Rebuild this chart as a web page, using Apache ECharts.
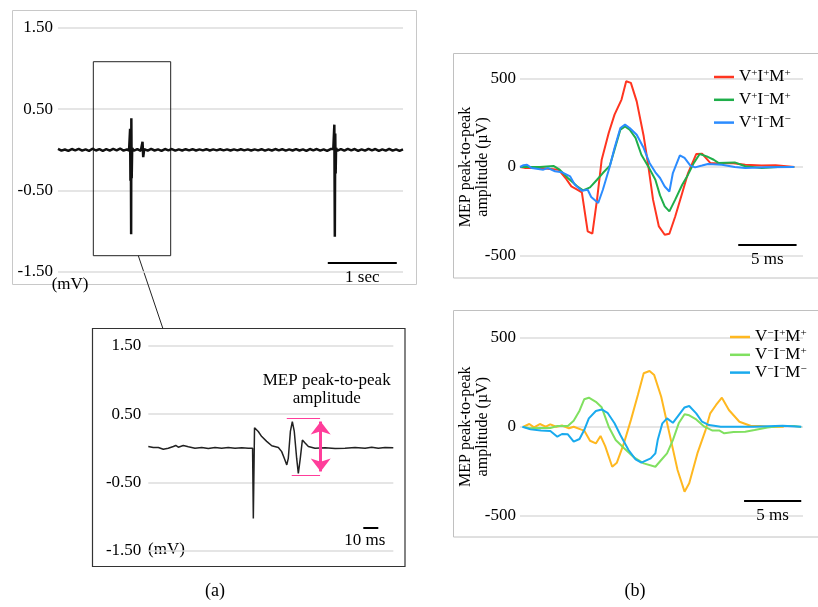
<!DOCTYPE html>
<html><head><meta charset="utf-8">
<script src="https://cdn.jsdelivr.net/npm/echarts@6/dist/echarts.min.js"></script>
<style>html,body{margin:0;padding:0;background:#fff}#c{width:818px;height:607px}</style>
</head><body><div id="c"></div>
<script>
// ---------- Panel (a) top: raw EMG over 5 s (mV) ----------
const t1 = [0,0.05,0.1,0.15,0.2,0.25,0.3,0.35,0.4,0.45,0.5,0.55,0.6,0.65,0.7,0.75,0.8,0.85,0.9,0.95,1.0,
  1.03,1.045,1.05,1.055,1.06,1.063,1.068,1.075,1.1,
  1.15,1.2,1.225,1.235,1.25,
  1.3,1.35,1.4,1.45,1.5,1.55,1.6,1.65,1.7,1.75,1.8,1.85,1.9,1.95,2.0,2.05,2.1,2.15,2.2,2.25,2.3,2.35,2.4,2.45,2.5,2.55,2.6,2.65,2.7,2.75,2.8,2.85,2.9,2.95,3.0,3.05,3.1,3.15,3.2,3.25,3.3,3.35,3.4,3.45,3.5,3.55,3.6,3.65,3.7,3.75,3.8,3.85,3.9,3.95,
  3.99,4.005,4.012,4.018,4.024,4.03,4.05,
  4.1,4.15,4.2,4.25,4.3,4.35,4.4,4.45,4.5,4.55,4.6,4.65,4.7,4.75,4.8,4.85,4.9,4.95,5.0];
const v1 = [0.012,-0.01,0.004,-0.012,0.01,-0.006,0.012,-0.01,0.006,-0.012,0.014,-0.008,0.01,-0.012,0.008,-0.01,0.012,-0.006,0.016,-0.01,0.006,
  -0.01,0.26,-0.38,0.26,-1.04,0.39,-0.35,0.02,-0.01,
  0.01,-0.012,0.1,-0.09,0.008,
  -0.01,0.012,-0.008,0.006,-0.012,0.01,-0.006,0.01,-0.01,0.006,
  -0.008,0.008,-0.006,0.008,-0.008,0.006,-0.006,0.008,-0.008,0.006,
  -0.006,0.008,-0.006,0.006,-0.008,0.006,-0.006,0.008,-0.006,0.006,
  -0.008,0.006,-0.006,0.008,-0.01,0.006,-0.008,0.01,-0.006,0.008,
  -0.01,0.006,-0.008,0.01,-0.008,0.006,-0.012,0.01,-0.006,0.01,
  -0.01,0.006,-0.012,0.01,
  0.01,0.31,-1.07,0.2,-0.29,0.02,-0.01,
  0.01,-0.01,0.012,-0.006,0.01,-0.012,0.006,-0.01,0.012,-0.006,0.01,-0.012,0.006,-0.01,0.012,-0.01,0.006,-0.012,0.006];

// ---------- Panel (a) bottom: zoomed single MEP (ms, mV) ----------
const t2 = [0,3.3,6.7,10,13.3,16.7,18.3,20,23.3,26.7,31.1,35.6,40,44.5,48.9,53.3,57.8,62.3,66.7,69.5,
  70,70.8,73.3,75.6,78.9,82.3,86.7,88.9,90.7,92.3,93.3,94.7,96,97.3,98.9,100,101.3,102.7,104.5,106.7,
  111.1,117.8,124.5,131.1,137.8,144.5,148.9,153.3,157.8,163.3];
const v2 = [0.025,0.01,0.01,-0.015,0,0.025,0.04,0.015,0.04,0.02,0,0.01,-0.005,0.01,0,0.01,0,0.005,0,0,
  -1.03,0.30,0.245,0.17,0.10,0.035,0.01,-0.05,-0.15,-0.245,-0.15,0.245,0.39,0.245,-0.15,-0.37,-0.15,0.12,0.075,0.025,
  0,0.005,-0.005,0,0.01,0,0.015,0,0.01,0.005];

// ---------- Panel (b) top: averaged MEPs (ms, µV) ----------
const t3r = [0,0.4,1.7,3.3,3.9,4.4,4.9,5.3,5.8,6.2,6.6,7.0,7.6,8.1,8.7,9.1,9.5,10.0,10.6,11.0,11.4,11.9,12.4,12.8,13.3,13.9,14.4,15.1,15.6,16.3,17.0,18.1,19.3,20.7,21.9,23.5];
const v3r = [0,-5,-5,-15,-62,-109,-127,-143,-363,-376,-184,41,192,295,380,483,474,370,173,3,-184,-335,-382,-376,-279,-147,-34,73,75,23,20,23,13,8,10,0];
const t3g = [0,1.7,2.9,3.4,4.1,4.9,5.4,6.0,6.6,7.1,7.7,8.1,8.6,9.0,9.4,9.9,10.4,11.0,11.6,12.0,12.4,12.8,13.3,13.9,14.4,14.9,15.4,16.0,16.6,17.0,18.4,19.3,20.7,22.1,23.5];
const v3g = [0,0,5,-15,-62,-109,-132,-115,-72,-34,8,98,210,229,210,164,69,2,-72,-160,-222,-250,-184,-100,-43,23,73,60,41,23,26,4,-6,0,0];
const t3b = [0,0.3,0.6,1.0,2.0,2.4,3.0,3.6,4.3,4.7,5.3,5.8,6.1,6.7,7.1,7.7,8.1,8.6,9.0,9.4,10.0,10.6,11.1,11.6,12.0,12.4,12.8,13.1,13.7,14.1,14.6,15.0,15.6,16.1,17.3,18.4,19.3,21.0,23.5];
const v3b = [0,10,13,-6,-15,-6,-24,-30,-53,-100,-134,-128,-169,-203,-128,4,107,220,239,220,182,107,23,-30,-62,-110,-138,-34,66,51,8,-2,8,17,13,0,-6,-2,0];

// ---------- Panel (b) bottom ----------
const t4o = [0.3,0.8,1.2,1.7,2.2,2.6,3.1,3.6,4.2,4.6,5.2,5.5,6.0,6.5,6.9,7.3,7.9,8.3,8.9,9.5,10.1,10.6,11.1,11.5,12.1,12.8,13.5,14.1,14.5,15.2,15.9,16.3,16.8,17.3,17.9,18.8,19.8,20.6,21.5,22.6];
const v4o = [0,15,-4,15,0,13,0,7,-9,0,-15,-22,-79,-94,-52,-109,-225,-202,-94,37,178,300,313,290,168,-37,-243,-365,-318,-150,-19,75,122,163,94,28,4,4,-2,0];
const t4g = [0.3,0.8,1.8,2.6,3.2,4.1,4.6,5.1,5.5,5.9,6.5,7.0,7.6,8.2,8.9,9.8,10.6,11.6,12.1,12.6,13.1,13.6,14.1,14.5,15.1,15.8,16.5,17.1,17.5,18.3,19.3,20.1,21.2,22.3,23.5,24.1];
const v4g = [0,-9,-7,-7,4,4,33,90,154,163,140,109,0,-75,-120,-174,-206,-225,-187,-150,-75,19,70,64,41,0,-22,-22,-37,-30,-28,-19,-4,4,4,-2];
const t4b = [0.2,0.9,1.8,2.6,3.2,3.6,4.1,4.6,5.1,5.5,5.9,6.5,7.0,7.5,8.1,8.6,9.3,9.9,10.4,11.2,11.6,11.8,12.2,12.6,13.1,13.6,14.1,14.5,15.1,15.6,16.2,17.2,20.0,22.5,24.1];
const v4b = [0,-15,-22,-24,-56,-41,-43,-84,-69,-19,47,88,97,78,19,-47,-131,-184,-202,-178,-150,-75,19,47,22,65,108,116,75,28,9,0,0,5,0];

const mvTicks = [-1.5,-0.5,0.5,1.5];
const uvTicks = [-500,0,500];
const namesTop = ['V+I+M+','V+I-M+','V+I-M-'];
const namesBot = ['V-I+M+','V-I-M+','V-I-M-'];

const FONT = "'Liberation Serif','Times New Roman',serif";
function pairs(t,v){return t.map((x,i)=>[x,v[i]]);}
function supFmt(name){
  return name.replace(/([VIM])([+-])/g,(m,a,b)=>'{n|'+a+'}{s|'+(b==='+'?'+':'\u2212')+'}');
}
const legendText = {fontFamily:FONT,fontSize:17,color:'#000',rich:{
  n:{fontFamily:FONT,fontSize:17,lineHeight:18,color:'#000'},
  s:{fontFamily:FONT,fontSize:11,lineHeight:11,verticalAlign:'top',color:'#000'}}};
const lbl = {fontFamily:FONT,fontSize:17,color:'#000'};
const gridLine = {show:true,lineStyle:{color:'#dcdcdc',width:1.5}};

function mvAxis(gi, margin){
  return {gridIndex:gi,type:'value',min:-1.5,max:1.5,
    axisLine:{show:false},axisTick:{show:false,customValues:mvTicks},
    axisLabel:Object.assign({customValues:mvTicks,formatter:v=>v.toFixed(2),margin:margin},lbl),
    splitLine:gridLine};
}
function uvAxis(gi){
  return {gridIndex:gi,type:'value',min:uvTicks[0],max:uvTicks[2],interval:500,
    axisLine:{show:false},axisTick:{show:false},
    axisLabel:Object.assign({margin:4},lbl),
    splitLine:gridLine,
    name:'MEP peak-to-peak\namplitude (\u00b5V)',nameLocation:'middle',nameRotate:90,nameGap:29,
    nameMoveOverlap:false,
    nameTextStyle:{fontFamily:FONT,fontSize:16,color:'#000',lineHeight:17}};
}
function scaleBar(x1,x2,y,text,off){
  return {silent:true,symbol:['none','none'],animation:false,
    lineStyle:{color:'#000',width:2,type:'solid'},
    label:{show:true,formatter:text,position:'insideMiddleBottom',distance:6,offset:off||[0,0],
      fontFamily:FONT,fontSize:17,color:'#000'},
    emphasis:{disabled:true},
    data:[[{coord:[x1,y]},{coord:[x2,y]}]]};
}
const ln = (c,w)=>({color:c,width:w});
const legendBase = {orient:'vertical',icon:'rect',itemWidth:20,itemHeight:2.5,selectedMode:false,padding:0,
  formatter:supFmt,textStyle:legendText};

const option = {
  animation:false,
  grid:[
    {left:58,top:28,width:345,height:243.7},
    {left:148.3,top:345.7,width:245,height:205},
    {left:520,top:78.3,width:283,height:177.4},
    {left:520,top:337.7,width:283,height:178}
  ],
  xAxis:[
    {gridIndex:0,type:'value',min:0,max:5,show:false},
    {gridIndex:1,type:'value',min:0,max:163.3,show:false},
    {gridIndex:2,type:'value',min:0,max:24.25,show:false},
    {gridIndex:3,type:'value',min:0,max:24.25,show:false}
  ],
  yAxis:[mvAxis(0,5),mvAxis(1,7),uvAxis(2),uvAxis(3)],
  legend:[
    Object.assign({left:714,top:68,itemGap:5.3,data:namesTop},legendBase),
    Object.assign({left:730,top:328,itemGap:0.3,data:namesBot},legendBase)
  ],
  series:[
    {type:'line',name:'raw',xAxisIndex:0,yAxisIndex:0,data:pairs(t1,v1),symbol:'none',
     lineStyle:ln('#111',2.5),color:'#111',z:3,
     markArea:{silent:true,itemStyle:{color:'rgba(0,0,0,0)',borderColor:'#222',borderWidth:1},
       data:[[{coord:[0.512,1.085]},{coord:[1.633,-1.303]}]]},
     markLine:scaleBar(3.91,4.91,-1.39,'1 sec')},
    {type:'line',name:'mep',xAxisIndex:1,yAxisIndex:1,data:pairs(t2,v2),symbol:'none',
     lineStyle:ln('#222',1.5),color:'#222',
     markLine:{silent:true,symbol:['none','none'],symbolSize:[15,13],animation:false,emphasis:{disabled:true},
       label:{show:false},
       lineStyle:{color:'#ff3d9a',width:1,type:'solid'},
       data:[
         [{coord:[92.3,0.44]},{coord:[114.5,0.44]}],
         [{coord:[95.6,-0.39]},{coord:[114.5,-0.39]}],
         [{coord:[114.9,0.39],symbol:'arrow',symbolSize:[15,13],lineStyle:{width:3}},
          {coord:[114.9,-0.34],symbol:'arrow',symbolSize:[15,13],lineStyle:{width:3}}]
       ]}},
    {type:'line',xAxisIndex:1,yAxisIndex:1,data:[],markLine:scaleBar(143.3,153.3,-1.164,'10 ms',[-6,-2])},
    {type:'line',name:namesTop[0],xAxisIndex:2,yAxisIndex:2,data:pairs(t3r,v3r),symbol:'none',
     lineStyle:ln('#ff3520',2),color:'#ff3520',markLine:scaleBar(18.7,23.7,-438,'5 ms')},
    {type:'line',name:namesTop[1],xAxisIndex:2,yAxisIndex:2,data:pairs(t3g,v3g),symbol:'none',
     lineStyle:ln('#1fae4a',2),color:'#1fae4a'},
    {type:'line',name:namesTop[2],xAxisIndex:2,yAxisIndex:2,data:pairs(t3b,v3b),symbol:'none',
     lineStyle:ln('#2b8cff',2),color:'#2b8cff'},
    {type:'line',name:namesBot[0],xAxisIndex:3,yAxisIndex:3,data:pairs(t4o,v4o),symbol:'none',
     lineStyle:ln('#ffb820',2),color:'#ffb820',markLine:scaleBar(19.2,24.1,-417,'5 ms')},
    {type:'line',name:namesBot[1],xAxisIndex:3,yAxisIndex:3,data:pairs(t4g,v4g),symbol:'none',
     lineStyle:ln('#80e060',2),color:'#80e060'},
    {type:'line',name:namesBot[2],xAxisIndex:3,yAxisIndex:3,data:pairs(t4b,v4b),symbol:'none',
     lineStyle:ln('#19aaee',2),color:'#19aaee'}
  ],
  graphic:[
    {type:'rect',silent:true,z:-1,shape:{x:12.5,y:10.5,width:404,height:274},style:{fill:'none',stroke:'#c8c8c8',lineWidth:1}},
    {type:'rect',silent:true,z:-1,shape:{x:92.5,y:328.5,width:312.5,height:238},style:{fill:'none',stroke:'#333',lineWidth:1.2}},
    {type:'rect',silent:true,z:-1,shape:{x:453.5,y:53.5,width:400,height:224.5},style:{fill:'none',stroke:'#c0c0c0',lineWidth:1}},
    {type:'rect',silent:true,z:-1,shape:{x:453.5,y:310.5,width:400,height:226.5},style:{fill:'none',stroke:'#c0c0c0',lineWidth:1}},
    {type:'line',silent:true,shape:{x1:138.3,y1:255.7,x2:162.9,y2:328.5},style:{stroke:'#222',lineWidth:1}},
    {type:'text',silent:true,x:51.7,y:285,style:{text:'(mV)',font:'17px '+FONT,fill:'#000',textAlign:'left',textVerticalAlign:'middle'}},
    {type:'text',silent:true,x:148,y:550,style:{text:'(mV)',font:'17px '+FONT,fill:'#000',textAlign:'left',textVerticalAlign:'middle'}},
    {type:'text',silent:true,x:326.7,y:390,style:{text:'MEP peak-to-peak\namplitude',font:'17px '+FONT,fill:'#000',textAlign:'center',textVerticalAlign:'middle',lineHeight:18}},
    {type:'text',silent:true,x:215,y:591,style:{text:'(a)',font:'18px '+FONT,fill:'#000',textAlign:'center',textVerticalAlign:'middle'}},
    {type:'text',silent:true,x:635,y:591,style:{text:'(b)',font:'18px '+FONT,fill:'#000',textAlign:'center',textVerticalAlign:'middle'}}
  ]
};
const chart = echarts.init(document.getElementById('c'));
chart.setOption(option);
</script>
</body></html>
